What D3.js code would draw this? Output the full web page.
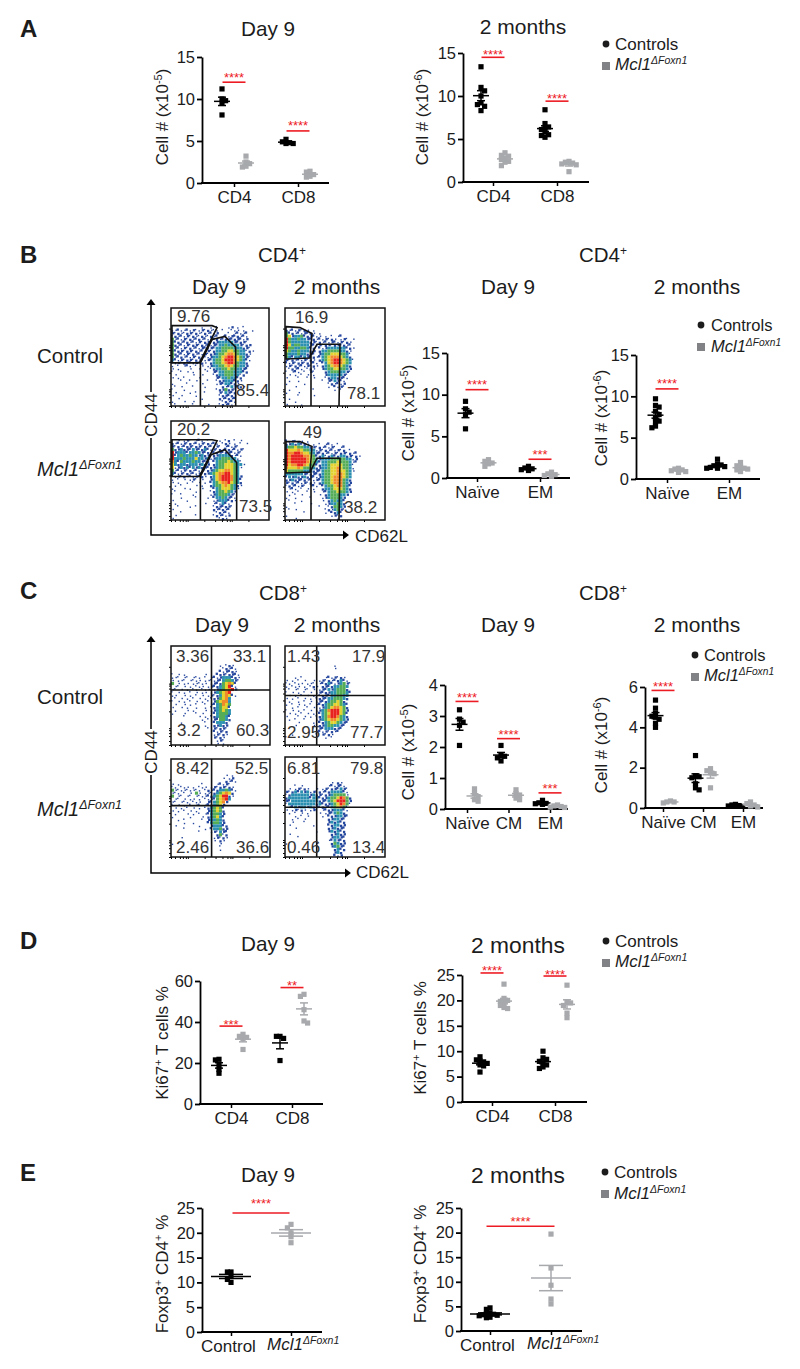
<!DOCTYPE html>
<html><head><meta charset="utf-8">
<style>html,body{margin:0;padding:0;background:#fff}svg{display:block}text{font-family:"Liberation Sans",Arial,sans-serif;fill:#1c1c1c}</style>
<script src="https://cdn.jsdelivr.net/npm/d3@7"></script>
</head><body><svg id="fig" width="800" height="1369"></svg>
<script>
// ---------- values ----------
const seriesNames = ['Controls','Mcl1'];
const twoCells = ['CD4','CD8'];
const naiveEm = ['Naïve','EM'];
const naiveCmEm = ['Naïve','CM','EM'];
const foxCats = ['Control','Mcl1'];

const a1Controls = [[11.2,10.0,9.8,9.5,8.1],[5.2,4.9,4.8,4.7,4.7]];
const a1Mutants  = [[3.2,2.5,2.3,2.0,1.9],[1.4,1.3,1.0,0.8,0.7]];
const a1Sig = [12.0,6.2]; const a1Stars = ['****','****'];

const a2Controls = [[13.4,11,10.6,10,9.2,9,8.8,8.3],[8.4,6.8,6.4,6.3,6.1,5.8,5.5,5.4,5.2]];
const a2Mutants  = [[3.4,3.1,3.0,2.8,2.6,2.4,2.3,1.9],[2.4,2.3,2.2,2.1,2.0,1.2]];
const a2Sig = [14.5,9.4]; const a2Stars = ['****','****'];

const b1Controls = [[9.2,8.3,7.9,7.6,5.9],[1.4,1.2,1.1,1.0,0.9]];
const b1Mutants  = [[2.2,2.0,1.8,1.7,1.4],[0.7,0.5,0.4,0.3,0.2]];
const b1Sig = [10.6,2.25]; const b1Stars = ['****','***'];

const b2Controls = [[9.7,8.9,8.7,8.2,7.8,7.4,7.0,6.9,6.4,6.2],[2.4,1.8,1.7,1.6,1.5,1.4,1.3,1.3]];
const b2Mutants  = [[1.3,1.2,1.1,1.0,0.9,0.8],[2.0,1.6,1.5,1.3,1.2,1.1,0.9]];
const b2Sig = [10.9,null]; const b2Stars = ['****',null];

const c1Controls = [[3.2,2.9,2.8,2.7,2.05],[2.05,1.75,1.7,1.65,1.55],[0.28,0.2,0.18,0.17,0.15]];
const c1Mutants  = [[0.65,0.5,0.4,0.3,0.25],[0.62,0.5,0.45,0.35,0.3],[0.13,0.1,0.08,0.06,0.05]];
const c1Sig = [3.47,2.27,0.52]; const c1Stars = ['****','****','***'];

const c2Controls = [[5.35,4.95,4.7,4.55,4.5,4.4,4.2,4.0],[2.6,1.6,1.55,1.5,1.2,1.0,0.9],[0.18,0.15,0.12,0.1,0.08]];
const c2Mutants  = [[0.35,0.3,0.3,0.25],[1.95,1.85,1.75,1.7,1.0],[0.3,0.22,0.15,0.1,0.05]];
const c2Sig = [5.83,null,null]; const c2Stars = ['****',null,null];

const d1Controls = [[21.8,21.5,19,16.8,15],[33,33,32,21.2]];
const d1Mutants  = [[34,33,32.5,32,26.6],[53.5,52.5,46,40.5,39.5]];
const d1Sig = [38,56.8]; const d1Stars = ['***','**'];

const d2Controls = [[8.9,8.3,8.1,7.9,7.6,7.3,7.1,5.9],[10,8.7,8.4,8.0,7.7,7.3,6.9,6.6]];
const d2Mutants  = [[23.2,20.4,20,19.8,19.5,19,18.6,18.4],[23,19.7,19.5,19,17.5,16.6]];
const d2Sig = [25.4,24.8]; const d2Stars = ['****','****'];

const e1Controls = [[12.1,12.1,11.2,10.6,10.0],null];
const e1Mutants  = [null,[21.7,21,20,19.2,18]];
const e1Sig = [24]; const e1Stars = ['****'];

const e2Controls = [[4.7,4.4,3.7,3.5,3.4,3.3,3.2,3.1,2.8,2.7],null];
const e2Mutants  = [null,[19.7,12.8,9.3,6.5,5.5]];
const e2Sig = [21.3]; const e2Stars = ['****'];

// flow-cytometry percentages
const flowB = [['9.76','85.4'],['16.9','78.1'],['20.2','73.5'],['49','38.2']];
const flowC = [['3.36','33.1','3.2','60.3'],['1.43','17.9','2.95','77.7'],['8.42','52.5','2.46','36.6'],['6.81','79.8','0.46','13.4']];

// gates, in percent of each axis
const gatesB = [
 [[[1,82],[42,82],[47,80],[29,44],[1,44]],[[30,0],[30,44],[42,68],[55,71],[66,60],[66,0]]],
 [[[1,81],[15,80],[27,74],[25,49],[1,48]],[[26,0],[26,52],[32,63],[55,63],[54,0]]],
 [[[1,81],[42,81],[47,80],[29,44],[1,44]],[[30,0],[30,44],[41,66],[55,71],[67,58],[67,0]]],
 [[[1,80],[15,80],[27,75],[25,49],[1,48]],[[26,0],[26,51],[32,63],[55,63],[54,0]]]
];
const quadsC = [[40.9,55.5],[31.7,50],[41,52.4],[31.7,49.7]];

// binned event density read by eye, 33 x 33 bins; a = sparse, 1..6 = blue to red
const densB1 = ["","","","","","",
"..........a..a.a...a1.a.a","aa1aa1a1aa1a1aaa.a..aaa.a..a","1a1aa11a1aa1a1a1...a.a1aa1","a1a1a1a1aa1aa1a1.a1a111a1a",
"3a1a1a1a11a1a111a1111111a1","311a11a1a1a11a11222221111a","31a1a1a11a1a1a1122322221a11","3a1a1a1a1a11a1122333322211a",
"3111a11a1a1a1a12233443322a1a","31a1a1a1a1a1a1123345543221a","3a11a1a1a1a1a1223456654321a","21a1a11a1a1a11233466654321a",
"1a1a1a1a1a1a.1233456653221","a.a.a1a.a.a.a1223345433221","a.a...a..a.a.a122334332211","a..a.a.a....a.112233322211",
".a.....a..a...a12233322a1","a.a.a....a.....112232211","...a..a.a...a..a1122211a","a....a....a....a112211a",
".a.a...a...a.....1a12111a","a...a..........a11311a",".a....a.a..a....1a2111","a..a....a.......a1111a",
"..a.......a.....1a11a1","a...a..a.........a1a1a",".a.....a....a...a1a1a"];
const densB2 = ["","","","","","","",
"1a1a1a1a.a","311a1a111a.a","3412231111aa.a.a.a1","6322322111a1a1a1a.a1a.a","6322222211a1a1a11a1a1a",
"6423322211a1a11a1111a1","6332233211.1a122222211a","4322322211.1223333221a","3222322111.1233444332a",
"3212212111a12345554321","1a1a1a1a1a.12345665432a","1a1a11a1a1a.1245665432","a1a1a1a1a1a.1234554321",
".a1a1a.a1a..1233443321","a.a1a.a.1a...12333221a",".a.a.a.a.a...1222221a","a...a..a.a...a122111a",
".a..a.......a.11211a","a.....a.......a1a1a1","...a..........a.1a1a",".a.......a......a.a",
"a...a","....a....a",".a","...a","a....a"];
const densB3 = ["","","","","","",
"a.a.a1a.a1a.a...a.a1.a.a","1a1a1a1a1a1a1a1a.a1a.a.a.a","1a1a111a11a1a1a1a.a1a1a","3112111211121a1a1a11a1a1a",
"6122212232111a1111111a1a","6123223221211a1122221a1a","6222322242212a12233322a","5213222322111.123334322a",
"4212212221211.1233444322a","4a121212121111123344432a","3a1a1a1a1a1a11234455432","21a1a1a1a1a112345566432",
"1a1a1a1a1a1a.12456665321","a.a.a.a1a.a..12456665321","a.a..a.a.a.a.12345564321",".a.a....a.a..1233454321a",
"a...a.a...a...12344432a",".a......a....a12334321","a..a...a.....a1233321a","...a....a...a.1223211a",
"a....a........a122211a",".a.........a..a1a21a","..a...a.a.....a11111a","a.............1a11a1",
"...a...........a1a1a",".a......a.....a1a1a1","a...............a1a"];
const densB4 = ["","","","","","",
"1a1a1a.a","1121211a.a.a.a1a.a","2334332211a1a1a1a.a1","6444543322a1a1a1a1a1.a",
"6556654432111a1a1a11a1a1","6566665543112a12112211a1a","6566666543212223333322a1","6566666543212233343332a1",
"6455665433112234444332a","5444543332112234454332a","4333332221112334454432a","2222221111112334455432",
"1212112111a12334555432","1121111a1a112334555321","1a1a1a1a1a.12334555321","a1a1a1a.a1a.1233455321",
".a1a.a.a.a..1223444321","a.a.a..a.a..a123343321",".a.a.a.....a.12333221","a..a....a...a1233321",
".a...a......a.123221","...a....a....a122321","a..........a..a13321",".a.a.........a1a231a",
"......a......a.1121","a..............a1a1","...a.............a"];
const densC1 = ["","","","","","",
"................a.a1a",".................a1a1a","................1a111a","a.a.a......a...111a111a",
"aaa.aa.aaa.a.a1a122211a","a.aaa.aaaa.aaaa1123321a","3.a.aa.aaaaa.a11134541",".aa.a.a.aaa.a11123461a",
"aa.a.a.aa.aaa.a1234561","a.a.a.a.a.aa.a123456.","aa..a.a.a.a.a1a124541a",".a.a.a.a.a.a.a113452",
"a.a.a.a.a.a.a.134552",".a..a.a.a..a.a123543","a..a.a..a..a.a123441",".a...a.a...a.a123432",
"a...a...a.a...123332","....a....a.a.a123321","..........a.a.113321","...a.......a..12221",
"...........a..11211","............a.1a11a","..............1a1a1","..............a1a1a",
"..............1a1a","...............a1a","...............a.a"];
const densC2 = ["","","","","","",
"................a","................a","","",
"...a.a.......a1a1a1a","a.a.a.a..a.a1a1a1121a","aa.aaa.aaa.a1121a1231a","a.aaa.a.a1a.111122332",
".a.aa.aa.a.a112123331","a.a.a.a.a.a11112233321",".a.a.a.a.a.a111223322","a.a.a.a.a.a1112233321",
".a..a.a.a.a111233431","a.a.a.a.a.a1123344321","..a.a..a.a.a123455431","a.a.a.a.a.a1235666431",
".a.a.a.a.a.1234666431","a...a.a.a.a1235665321",".a.a..a...a1234554321","....a....a.1123443211",
"...a.....a.112332211",".........a.11222111","..........a1a1a1a1","..a.......a.1a1a","a............a.a","",""];
const densC3 = ["","","","","",
"..................a.a",".................a.a1","..................1a1a","a.a.......a....a1a1a","aa.aaa.a.aaa.a1a11a1a",
"3aaaaaaaaa.a1a1122321a","aaa.a.a.3a.aaa1234541","3.aa.aa.aaaa11234661a",".aa.a.aa.a.aaa134562","aa.aaa.aaa..1123451",
"a.a.a.a.aa.a112341",".a.a.a.a.a.a123431","a.a.a.a.a...123431",".a...a.a.a.a123321","a.....a...a.123421",
"..a.a.....a.122321","....a..a....123321",".a.......a...122211","....a......a.122311",".........a...a1a211",
"...............13a1","...a..........a1a1a","..............a.1a","a...............a","...a............a","................a","",""];
const densC4 = ["","","","","","","","",
"...............a.1a","...a.a........a1a11a",".a.a1a1a..a.a1a11121a","1a121212a1a1a1122221a",
"a12222221211a1123333a","1222222212211123346531","1122222222211123466631","a22222222212111234653a",
".a121221211a1a123453a","a.a1a1a.a1a.a1112221a",".a.a.a.a...a.a112321","...a.a.a....a.1112211",
"..a.a.a.......112211","..a...a.......121211",".a.......a....112211","...a..........112111",
"..........a...121211",".a.............11211","....a..........12211","..............a12111",
"a.........a....13211","...............12311","................1211",".a..............121","................1a1"];

// ---------- layout ----------
const panels = [
 {ax:202,xEnd:329,y0:183,yT:57, dom:[0,15],ticks:[0,5,10,15],   t0:234,t1:298,off:12, cats:twoCells, ctrl:a1Controls,mut:a1Mutants,sig:a1Sig,stars:a1Stars,ylab:['Cell  # (x10','-5',')'],ylx:168,yly:117,gap:8},
 {ax:463,xEnd:589,y0:182,yT:53, dom:[0,15],ticks:[0,5,10,15],   t0:493,t1:557,off:12, cats:twoCells, ctrl:a2Controls,mut:a2Mutants,sig:a2Sig,stars:a2Stars,ylab:['Cell # (x10','-6',')'],ylx:428,yly:117,gap:6},
 {ax:447,xEnd:570,y0:478,yT:353,dom:[0,15],ticks:[0,5,10,15],   t0:477,t1:540,off:11.5,cats:naiveEm, ctrl:b1Controls,mut:b1Mutants,sig:b1Sig,stars:b1Stars,ylab:['Cell # (x10','-5',')'],ylx:414,yly:413,gap:8},
 {ax:636,xEnd:760,y0:479,yT:355,dom:[0,15],ticks:[0,5,10,15],   t0:667,t1:729,off:11.5,cats:naiveEm, ctrl:b2Controls,mut:b2Mutants,sig:b2Sig,stars:b2Stars,ylab:['Cell # (x10','-6',')'],ylx:607,yly:418,gap:8},
 {ax:445,xEnd:568,y0:809,yT:685,dom:[0,4], ticks:[0,1,2,3,4],   t0:467,t1:550,off:7.5,cats:naiveCmEm,ctrl:c1Controls,mut:c1Mutants,sig:c1Sig,stars:c1Stars,ylab:['Cell # (x10','-5',')'],ylx:414,yly:752,gap:7},
 {ax:645,xEnd:763,y0:808,yT:687,dom:[0,6], ticks:[0,2,4,6],     t0:663,t1:743,off:7.5,cats:naiveCmEm,ctrl:c2Controls,mut:c2Mutants,sig:c2Sig,stars:c2Stars,ylab:['Cell # (x10','-6',')'],ylx:607,yly:745,gap:7},
 {ax:200,xEnd:323,y0:1104,yT:981,dom:[0,60],ticks:[0,20,40,60], t0:231,t1:292,off:12, cats:twoCells, ctrl:d1Controls,mut:d1Mutants,sig:d1Sig,stars:d1Stars,ylab:['Ki67','+',' T cells %'],ylx:168,yly:1043,gap:5},
 {ax:462,xEnd:587,y0:1102,yT:975,dom:[0,25],ticks:[0,5,10,15,20,25],t0:492,t1:555,off:12,cats:twoCells,ctrl:d2Controls,mut:d2Mutants,sig:d2Sig,stars:d2Stars,ylab:['Ki67','+',' T cells %'],ylx:426,yly:1038,gap:5},
 {ax:202,xEnd:322,y0:1332,yT:1208,dom:[0,25],ticks:[0,5,10,15,20,25],t0:231,t1:291,off:0,cats:foxCats,ctrl:e1Controls,mut:e1Mutants,sig:e1Sig,stars:e1Stars,ylab:['Foxp3','+',' CD4','+',' %'],ylx:168,yly:1274,gap:12,mid:true,sigHalf:28.5,meanHalf:20,capHalf:12},
 {ax:461,xEnd:582,y0:1331,yT:1208,dom:[0,25],ticks:[0,5,10,15,20,25],t0:490,t1:551,off:0,cats:foxCats,ctrl:e2Controls,mut:e2Mutants,sig:e2Sig,stars:e2Stars,ylab:['Foxp3','+',' CD4','+','  %'],ylx:426,yly:1264,gap:8,mid:true,sigHalf:34,meanHalf:20,capHalf:12}
];
const titles = [
 ['Day 9',268,36,20.7],['2 months',523,34,21],['Day 9',219,294,20.7],['2 months',337,294,21],['Day 9',508,294,20.7],['2 months',697,294,21],
 ['Day 9',222,632,20.7],['2 months',337,632,21],['Day 9',508,632,20.7],['2 months',697,632,21],
 ['Day 9',268,951,20.7],['2 months',518,953,22.8],['Day 9',268,1182,20.7],['2 months',518,1183,22.8]];
const supTitles = [['CD4',282,262],['CD4',603,262],['CD8',283,600],['CD8',603,600]];
const letters = [['A',37],['B',263],['C',599],['D',949],['E',1181]];
const legends = [[606,615,44,66,70,17],[701,711,325,347,352,16.5],[695,704,655,677,681,16.5],[606,615,941,963,967,17],[605,614,1172,1194,1199,17]];
const rowLabels = [[363,476],[704,816]];
const flowBoxes = {
 B:[[171,269,308,406],[285,385,308,406],[171,269,421,520],[285,385,422,520]],
 C:[[171,270,646,745],[285,385,646,745],[171,270,759,857],[285,385,757,857]]};
const flowSpotsB = [[[177,322],[236,396]],[[295,323],[347,399]],[[177,435],[239,512]],[[303,438],[344,513]]];
const flowSpotsC = [
 [[176,662],[233,662],[177,736],[236,736]],[[287,662],[352,662],[287,738],[350,738]],
 [[176,774],[235,774],[176,853],[236,853]],[[287,774],[350,774],[287,853],[352,853]]];

// ---------- drawing ----------
const svg = d3.select('#fig');
const RED = '#ed1c24', GREY = '#a7a9ac', BLACK = '#000';

function rich(sel, parts, opt){ // alternating normal / superscript runs
  const sup = opt.sup, raise = opt.raise;
  parts.forEach((p,i)=>{
    const isSup = i%2===1;
    const t = sel.append('tspan').text(p).style('font-size', (isSup?sup:opt.size)+'px');
    if(opt.italicAll) t.style('font-style','italic');
    if(isSup) t.attr('dy',-raise);
    else if(i>0) t.attr('dy',raise);
  });
}
function mclText(parent,x,y,size,anchor){
  const t = parent.append('text').attr('x',x).attr('y',y).attr('text-anchor',anchor||'start');
  rich(t,['Mcl1','ΔFoxn1'],{size,sup:size*0.62,raise:size*0.36,italicAll:true});
  return t;
}
function swarm(values,y,s){
  const placed=[];
  const k0=0.72;
  return values.slice().sort((a,b)=>b-a).map((v,k)=>{
    const py=y(v); const dir=k%2?-1:1;
    for(let step=0;step<8;step++){
      const cands=step===0?[0]:[dir*step*s*k0,-dir*step*s*k0];
      for(const dx of cands){
        if(!placed.some(p=>Math.abs(p[0]-dx)<s*k0&&Math.abs(p[1]-py)<s*k0)){placed.push([dx,py]);return [dx,py];}
      }
    }
    placed.push([0,py]);return [0,py];
  });
}
panels.forEach(p=>{
  const g=svg.append('g');
  const y=d3.scaleLinear().domain(p.dom).range([p.y0,p.yT]);
  const x=d3.scaleLinear().domain([0,p.cats.length-1]).range([p.t0,p.t1]);
  const sub=d3.scaleOrdinal().domain(seriesNames).range([-p.off,p.off]);
  const gy=g.append('g').attr('transform',`translate(${p.ax},0)`).call(d3.axisLeft(y).tickValues(p.ticks).tickFormat(d3.format('d')).tickSize(5).tickPadding(2).tickSizeOuter(0));
  const gx=g.append('g').attr('transform',`translate(0,${p.y0})`).call(d3.axisBottom(x).tickValues(p.cats.map((_,i)=>i)).tickFormat(i=>p.cats[i]).tickSize(4).tickPadding(4).tickSizeOuter(0));
  gx.select('.domain').remove();
  g.append('line').attr('x1',p.ax-1).attr('x2',p.xEnd).attr('y1',p.y0).attr('y2',p.y0).attr('stroke',BLACK).attr('stroke-width',2);
  gy.selectAll('path,line').attr('stroke',BLACK).attr('stroke-width',1.8);
  gx.selectAll('line').attr('stroke',BLACK).attr('stroke-width',1.5);
  gy.selectAll('text').style('font-size','16.5px').style('font-family','"Liberation Sans"').attr('fill','#1c1c1c');
  gx.selectAll('text').style('font-size','17px').style('font-family','"Liberation Sans"').attr('fill','#1c1c1c');
  if(p.mid){
    gx.selectAll('.tick text').filter(i=>p.cats[i]==='Mcl1').remove();
    gx.selectAll('.tick text').attr('x',-3);
    mclText(g,x(1)-24,p.y0+18,17,'start');
  }
  const yl=g.append('text').attr('transform',`translate(${p.ylx},${p.yly}) rotate(-90)`).attr('text-anchor','middle');
  rich(yl,p.ylab,{size:17,sup:11,raise:6});
  [[p.ctrl,seriesNames[0],BLACK],[p.mut,seriesNames[1],GREY]].forEach(([arr,name,col])=>{
    arr.forEach((vals,ci)=>{
      if(!vals) return;
      const cx=x(ci)+sub(name);
      const m=d3.mean(vals), se=d3.deviation(vals)/Math.sqrt(vals.length);
      const mh=p.meanHalf||8, ch=p.capHalf||4;
      const pts=swarm(vals,y,5);
      g.append('g').selectAll('rect').data(pts).join('rect')
        .attr('x',d=>cx+d[0]-2.6).attr('y',d=>d[1]-2.6).attr('width',5.2).attr('height',5.2).attr('fill',col);
      const bars=[[cx-mh,cx+mh,y(m),y(m)],[cx-ch,cx+ch,y(m+se),y(m+se)],[cx-ch,cx+ch,y(m-se),y(m-se)],[cx,cx,y(m+se),y(m-se)]];
      g.append('g').selectAll('line').data(bars).join('line')
        .attr('x1',d=>d[0]).attr('x2',d=>d[1]).attr('y1',d=>d[2]).attr('y2',d=>d[3]).attr('stroke',col).attr('stroke-width',1.5);
    });
  });
  p.sig.forEach((v,i)=>{
    if(v===null) return;
    const c=p.mid?x(0.5):x(i), h=p.sigHalf||11.5;
    g.append('line').attr('x1',c-h).attr('x2',c+h).attr('y1',y(v)).attr('y2',y(v)).attr('stroke',RED).attr('stroke-width',1.6);
    g.append('text').attr('x',c).attr('y',y(v)-p.gap+7.5).attr('text-anchor','middle').style('font-size','13px').style('fill',RED).text(p.stars[i]);
  });
});
titles.forEach(([t,x,y,fs])=>svg.append('text').attr('x',x).attr('y',y).attr('text-anchor','middle').style('font-size',fs+'px').text(t));
supTitles.forEach(([t,x,y])=>{
  const e=svg.append('text').attr('x',x).attr('y',y).attr('text-anchor','middle');
  rich(e,[t,'+'],{size:20.5,sup:12,raise:7});
});
letters.forEach(([t,y])=>svg.append('text').attr('x',20).attr('y',y).style('font-size','24px').style('font-weight','bold').text(t));
legends.forEach(([mx,tx,cy,sy,by,fs])=>{
  svg.append('circle').attr('cx',mx).attr('cy',cy).attr('r',3.4).attr('fill','#1c1c1c');
  svg.append('text').attr('x',tx).attr('y',cy+6).style('font-size',fs+'px').text(seriesNames[0]);
  svg.append('rect').attr('x',mx-4).attr('y',sy-4).attr('width',8).attr('height',8).attr('fill','#808285');
  mclText(svg,tx,by,fs,'start');
});
rowLabels.forEach(([a,b])=>{
  svg.append('text').attr('x',37).attr('y',a).style('font-size','20.5px').text(foxCats[0]);
  mclText(svg,37,b,20,'start');
});
const flowLevels=['a','1','2','3','4','5','6'];
const flowColor=d3.scaleOrdinal().domain(flowLevels).range(['#26479e','#26479e','#2a8fb0','#56ad58','#e3d22f','#f08a2c','#e8231f']);
const flowSize=d3.scaleOrdinal().domain(flowLevels).range([1.4,2.3,2.9,3.1,3.1,3.1,3.1]);
function drawFlow(box,rows){
  const [x0,x1,yt,yb]=box;
  const g=svg.append('g');
  const cx=d3.scaleLinear().domain([0,33]).range([x0,x1]);
  const cy=d3.scaleLinear().domain([0,33]).range([yt,yb]);
  const cells=[];
  rows.forEach((r,ri)=>r.split('').forEach((ch,ci)=>{if(ch!=='.')cells.push({ch,ci,ri});}));
  // sparse bins: shift the dot inside its bin so the bins do not read as a lattice
  const nudge=d=>(d.ch==='a'||d.ch==='1')?[((d.ci*7+d.ri*13)%3-1)*0.7,((d.ci*11+d.ri*5)%3-1)*0.7]:[0,0];
  g.selectAll('rect').data(cells).join('rect')
    .attr('x',d=>cx(d.ci+0.5)-flowSize(d.ch)/2+nudge(d)[0]).attr('y',d=>cy(d.ri+0.5)-flowSize(d.ch)/2+nudge(d)[1])
    .attr('width',d=>flowSize(d.ch)).attr('height',d=>flowSize(d.ch)).attr('fill',d=>flowColor(d.ch));
  return g;
}
function frame(box){
  const [x0,x1,yt,yb]=box;
  const fx=d3.scaleLinear().domain([0,100]).range([x0,x1]);
  const fy=d3.scaleLinear().domain([0,100]).range([yb,yt]);
  const minor=[0,4,9,12,15,17,34,45,52,57,60,62,79];
  const ax=svg.append('g').attr('transform',`translate(${x0},0)`).call(d3.axisLeft(fy).tickValues(minor).tickSize(2).tickFormat(''));
  const ab=svg.append('g').attr('transform',`translate(0,${yb})`).call(d3.axisBottom(fx).tickValues(minor).tickSize(2).tickFormat(''));
  [ax,ab].forEach(s=>{s.select('.domain').remove();s.selectAll('line').attr('stroke','#000').attr('stroke-width',1);});
  svg.append('rect').attr('x',x0).attr('y',yt).attr('width',x1-x0).attr('height',yb-yt).attr('fill','none').attr('stroke','#111').attr('stroke-width',1.5);
  return {fx,fy};
}
[densB1,densB2,densB3,densB4].forEach((d,i)=>{
  drawFlow(flowBoxes.B[i],d);
  const {fx,fy}=frame(flowBoxes.B[i]);
  const line=d3.line().x(v=>fx(v[0])).y(v=>fy(v[1]));
  gatesB[i].forEach((gt,gi)=>svg.append('path').attr('d',line(gt)+(gi===0?'Z':'')).attr('fill','none').attr('stroke','#111').attr('stroke-width',1.6));
  flowB[i].forEach((t,k)=>svg.append('text').attr('x',flowSpotsB[i][k][0]).attr('y',flowSpotsB[i][k][1]).style('font-size','17px').style('fill','#333').text(t));
});
[densC1,densC2,densC3,densC4].forEach((d,i)=>{
  drawFlow(flowBoxes.C[i],d);
  const {fx,fy}=frame(flowBoxes.C[i]);
  const [qx,qy]=quadsC[i];
  svg.append('line').attr('x1',fx(qx)).attr('x2',fx(qx)).attr('y1',fy(0)).attr('y2',fy(100)).attr('stroke','#111').attr('stroke-width',1.6);
  svg.append('line').attr('x1',fx(0)).attr('x2',fx(100)).attr('y1',fy(qy)).attr('y2',fy(qy)).attr('stroke','#111').attr('stroke-width',1.6);
  flowC[i].forEach((t,k)=>svg.append('text').attr('x',flowSpotsC[i][k][0]).attr('y',flowSpotsC[i][k][1]).style('font-size','17px').style('fill','#333').text(t));
});
// CD44 / CD62L arrows
[[151,535,305,348,415,355,542],[151,873,642,350,752,356,878]].forEach(([x,yb,yt,xr,ly,tx,ty])=>{
  svg.append('path').attr('d',`M${x},${yt}L${x},${yb}L${xr-5},${yb}`).attr('fill','none').attr('stroke','#000').attr('stroke-width',1.5);
  svg.append('path').attr('d',`M${x-4.5},${yt}L${x+4.5},${yt}L${x},${yt-6}Z`).attr('fill','#000');
  svg.append('path').attr('d',`M${xr-5},${yb-4.5}L${xr-5},${yb+4.5}L${xr+1},${yb}Z`).attr('fill','#000');
  svg.append('rect').attr('x',x-8).attr('y',ly-23).attr('width',16).attr('height',46).attr('fill','#fff');
  svg.append('text').attr('transform',`translate(${x+6},${ly}) rotate(-90)`).attr('text-anchor','middle').style('font-size','17px').text('CD44');
  svg.append('text').attr('x',tx).attr('y',ty).style('font-size','17px').text('CD62L');
});
</script></body></html>
